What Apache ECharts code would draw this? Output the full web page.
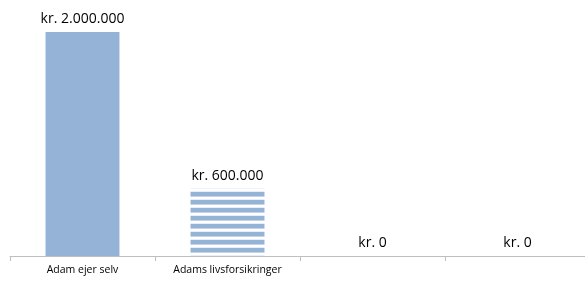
<!DOCTYPE html>
<html>
<head>
<meta charset="utf-8">
<script src="https://cdn.jsdelivr.net/npm/echarts@6/dist/echarts.min.js"></script>
<style>
html, body { margin: 0; padding: 0; background: #fff; }
#main { width: 585px; height: 284px; }
</style>
</head>
<body>
<div id="main"></div>
<script>
// kategorier og værdier
var categories = ['Adam ejer selv', 'Adams livsforsikringer', '', ''];
var amounts = [2000000, 600000, 0, 0];

// dansk formatering: kr. 2.000.000
function kroner(v) {
	var s = String(Math.round(v));
	return 'kr. ' + s.replace(/\B(?=(\d{3})+(?!\d))/g, '.');
}

// stribet mønster til anden søjle
function stripes() {
	var c = document.createElement('canvas');
	c.width = 8;
	c.height = 8;
	var ctx = c.getContext('2d');
	ctx.fillStyle = '#ffffff';
	ctx.fillRect(0, 0, 8, 8);
	ctx.fillStyle = '#95b3d7';
	ctx.fillRect(0, 0, 8, 4);
	ctx.fillStyle = '#c3d4ea';
	ctx.fillRect(0, 4, 8, 1);
	ctx.fillStyle = '#e6edf7';
	ctx.fillRect(0, 7, 8, 1);
	return c;
}

var myChart = echarts.init(document.getElementById('main'));

var barData = [];
for (var i = 0; i < amounts.length; i++) {
	var item = { value: amounts[i] };
	if (i == 1) {
		item.itemStyle = { color: { image: stripes(), repeat: 'repeat' } };
	}
	barData.push(item);
}

var option = {
	animation : false,
	grid : {
		left : 10,
		top : 32,
		right : -5,
		bottom : 28,
		outerBoundsMode : 'none'
	},
	xAxis : {
		type : 'category',
		data : categories,
		boundaryGap : true,
		axisLine : { lineStyle : { color : '#bfbfbf', width : 1 } },
		axisTick : { show : true, interval : 0, length : 5, lineStyle : { color : '#bfbfbf' } },
		axisLabel : {
			interval : 0,
			color : '#000',
			fontFamily : 'Open Sans',
			fontSize : 10.5,
			margin : 9
		}
	},
	yAxis : {
		type : 'value',
		min : 0,
		max : 2000000,
		show : false
	},
	series : [ {
		type : 'bar',
		data : barData,
		barWidth : '51%',
		itemStyle : { color : '#95b3d7' },
		label : {
			show : true,
			position : 'top',
			distance : 6,
			color : '#000',
			fontFamily : 'Open Sans',
			fontSize : 14,
			formatter : function(p) {
				return kroner(p.value);
			}
		}
	} ]
};

myChart.setOption(option);
</script>
</body>
</html>
